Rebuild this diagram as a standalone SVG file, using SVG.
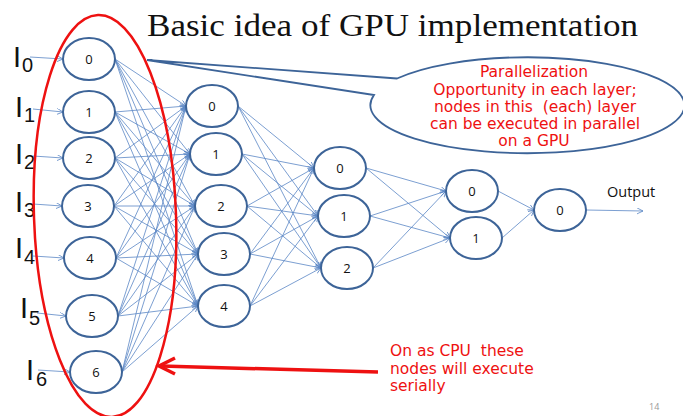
<svg xmlns="http://www.w3.org/2000/svg" width="683" height="416" viewBox="0 0 683 416">
<style>
.node ellipse{fill:#fff;stroke:#3d6498;stroke-width:2}
.node text{font-family:"Open Sans","Liberation Sans",sans-serif;font-size:13px;fill:#111;text-anchor:middle;dominant-baseline:central}
.conn line{stroke:#5b87c5;stroke-width:0.8;marker-end:url(#ah)}
.lbl{font-family:"Liberation Sans",Arial,sans-serif;fill:#111}
.red{font-family:"DejaVu Sans","Open Sans",sans-serif;font-size:15.5px;fill:#ee1111}
</style>
<defs>
<marker id="ah" markerUnits="userSpaceOnUse" markerWidth="8" markerHeight="8" refX="6" refY="3" orient="auto">
<path d="M0,0 L6,3 L0,6" fill="none" stroke="#5b87c5" stroke-width="0.8"/>
</marker>
</defs>
<rect width="683" height="416" fill="#fff"/>
<text x="147" y="36" font-family="Liberation Serif,serif" font-size="31" fill="#111" textLength="491" lengthAdjust="spacingAndGlyphs">Basic idea of GPU implementation</text>

<g id="callout">
<path d="M397 78.5 L147 60 L374 95 A157 48 0 1 0 397 78.5 Z" fill="#fff" stroke="#3d6498" stroke-width="1.8"/>
<g class="red" text-anchor="middle">
<text x="534" y="77">Parallelization</text>
<text x="535" y="94.5">Opportunity in each layer;</text>
<text x="535" y="112" xml:space="preserve">nodes in this  (each) layer</text>
<text x="535" y="129">can be executed in parallel</text>
<text x="534" y="146">on a GPU</text>
</g>
</g>

<g id="connectors" class="conn">
<line x1="30" y1="57" x2="63" y2="59"/>
<line x1="33" y1="109" x2="63" y2="112"/>
<line x1="33" y1="156" x2="63" y2="158"/>
<line x1="33" y1="204" x2="62" y2="206"/>
<line x1="33" y1="256" x2="64" y2="258"/>
<line x1="37" y1="313" x2="66" y2="316"/>
<line x1="38" y1="370" x2="70" y2="372"/>

<line x1="115" y1="59" x2="186" y2="106"/><line x1="115" y1="59" x2="190" y2="154"/><line x1="115" y1="59" x2="195" y2="206"/><line x1="115" y1="59" x2="198" y2="254"/><line x1="115" y1="59" x2="198" y2="306"/>
<line x1="115" y1="112" x2="186" y2="106"/><line x1="115" y1="112" x2="190" y2="154"/><line x1="115" y1="112" x2="195" y2="206"/><line x1="115" y1="112" x2="198" y2="254"/><line x1="115" y1="112" x2="198" y2="306"/>
<line x1="115" y1="158" x2="186" y2="106"/><line x1="115" y1="158" x2="190" y2="154"/><line x1="115" y1="158" x2="195" y2="206"/><line x1="115" y1="158" x2="198" y2="254"/><line x1="115" y1="158" x2="198" y2="306"/>
<line x1="114" y1="206" x2="186" y2="106"/><line x1="114" y1="206" x2="190" y2="154"/><line x1="114" y1="206" x2="195" y2="206"/><line x1="114" y1="206" x2="198" y2="254"/><line x1="114" y1="206" x2="198" y2="306"/>
<line x1="116" y1="258" x2="186" y2="106"/><line x1="116" y1="258" x2="190" y2="154"/><line x1="116" y1="258" x2="195" y2="206"/><line x1="116" y1="258" x2="198" y2="254"/><line x1="116" y1="258" x2="198" y2="306"/>
<line x1="118" y1="316" x2="186" y2="106"/><line x1="118" y1="316" x2="190" y2="154"/><line x1="118" y1="316" x2="195" y2="206"/><line x1="118" y1="316" x2="198" y2="254"/><line x1="118" y1="316" x2="198" y2="306"/>
<line x1="122" y1="372" x2="186" y2="106"/><line x1="122" y1="372" x2="190" y2="154"/><line x1="122" y1="372" x2="195" y2="206"/><line x1="122" y1="372" x2="198" y2="254"/><line x1="122" y1="372" x2="198" y2="306"/>

<line x1="238" y1="106" x2="314" y2="168"/><line x1="238" y1="106" x2="318" y2="216"/><line x1="238" y1="106" x2="321" y2="268"/>
<line x1="242" y1="154" x2="314" y2="168"/><line x1="242" y1="154" x2="318" y2="216"/><line x1="242" y1="154" x2="321" y2="268"/>
<line x1="247" y1="206" x2="314" y2="168"/><line x1="247" y1="206" x2="318" y2="216"/><line x1="247" y1="206" x2="321" y2="268"/>
<line x1="250" y1="254" x2="314" y2="168"/><line x1="250" y1="254" x2="318" y2="216"/><line x1="250" y1="254" x2="321" y2="268"/>
<line x1="250" y1="306" x2="314" y2="168"/><line x1="250" y1="306" x2="318" y2="216"/><line x1="250" y1="306" x2="321" y2="268"/>

<line x1="366" y1="168" x2="446" y2="191"/><line x1="366" y1="168" x2="450" y2="238"/>
<line x1="370" y1="216" x2="446" y2="191"/><line x1="370" y1="216" x2="450" y2="238"/>
<line x1="373" y1="268" x2="446" y2="191"/><line x1="373" y1="268" x2="450" y2="238"/>

<line x1="498" y1="191" x2="534" y2="210"/><line x1="502" y1="238" x2="534" y2="210"/>
<line x1="586" y1="210" x2="643" y2="211"/>
</g>

<g id="inputs" class="lbl">
<text x="13" y="67" font-size="29">I</text><text x="22" y="72" font-size="20">0</text>
<text x="15" y="117" font-size="29">I</text><text x="24" y="122" font-size="20">1</text>
<text x="15" y="164" font-size="29">I</text><text x="24" y="169" font-size="20">2</text>
<text x="15" y="212" font-size="29">I</text><text x="24" y="217" font-size="20">3</text>
<text x="15" y="258" font-size="29">I</text><text x="24" y="264" font-size="20">4</text>
<text x="20" y="318" font-size="29">I</text><text x="29" y="325" font-size="20">5</text>
<text x="26" y="380" font-size="29">I</text><text x="36" y="386" font-size="20">6</text>
</g>

<g id="L0_0" class="node"><ellipse cx="89" cy="59" rx="26" ry="21"/><text x="89" y="59">0</text></g>
<g id="L0_1" class="node"><ellipse cx="89" cy="112" rx="26" ry="21"/><text x="89" y="112">1</text></g>
<g id="L0_2" class="node"><ellipse cx="89" cy="158" rx="26" ry="21"/><text x="89" y="158">2</text></g>
<g id="L0_3" class="node"><ellipse cx="88" cy="206" rx="26" ry="21"/><text x="88" y="206">3</text></g>
<g id="L0_4" class="node"><ellipse cx="90" cy="258" rx="26" ry="21"/><text x="90" y="258">4</text></g>
<g id="L0_5" class="node"><ellipse cx="92" cy="316" rx="26" ry="21"/><text x="92" y="316">5</text></g>
<g id="L0_6" class="node"><ellipse cx="96" cy="372" rx="26" ry="21"/><text x="96" y="372">6</text></g>

<g id="L1_0" class="node"><ellipse cx="212" cy="106" rx="26" ry="21"/><text x="212" y="106">0</text></g>
<g id="L1_1" class="node"><ellipse cx="216" cy="154" rx="26" ry="21"/><text x="216" y="154">1</text></g>
<g id="L1_2" class="node"><ellipse cx="221" cy="206" rx="26" ry="21"/><text x="221" y="206">2</text></g>
<g id="L1_3" class="node"><ellipse cx="224" cy="254" rx="26" ry="21"/><text x="224" y="254">3</text></g>
<g id="L1_4" class="node"><ellipse cx="224" cy="306" rx="26" ry="21"/><text x="224" y="306">4</text></g>

<g id="L2_0" class="node"><ellipse cx="340" cy="168" rx="26" ry="21"/><text x="340" y="168">0</text></g>
<g id="L2_1" class="node"><ellipse cx="344" cy="216" rx="26" ry="21"/><text x="344" y="216">1</text></g>
<g id="L2_2" class="node"><ellipse cx="347" cy="268" rx="26" ry="21"/><text x="347" y="268">2</text></g>

<g id="L3_0" class="node"><ellipse cx="472" cy="191" rx="26" ry="21"/><text x="472" y="191">0</text></g>
<g id="L3_1" class="node"><ellipse cx="476" cy="238" rx="26" ry="21"/><text x="476" y="238">1</text></g>

<g id="L4_0" class="node"><ellipse cx="560" cy="210" rx="26" ry="21"/><text x="560" y="210">0</text></g>

<text x="607" y="197" font-family="Open Sans,Liberation Sans,sans-serif" font-size="14.5" fill="#111">Output</text>

<g id="cpu-group">
<ellipse cx="105" cy="216" rx="71" ry="201" transform="rotate(-2 105 216)" fill="none" stroke="#ee1111" stroke-width="2.5"/>
<line x1="378" y1="372" x2="161" y2="366" stroke="#ee1111" stroke-width="3.5"/>
<polyline points="175,358 159,366 175,374" fill="none" stroke="#ee1111" stroke-width="3.5" stroke-linejoin="miter"/>
<g class="red">
<text x="390" y="356" xml:space="preserve">On as CPU  these</text>
<text x="390" y="374">nodes will execute</text>
<text x="390" y="391">serially</text>
</g>
</g>
<text x="649" y="410" font-family="Open Sans,Liberation Sans,sans-serif" font-size="9" fill="#999">14</text>
</svg>
